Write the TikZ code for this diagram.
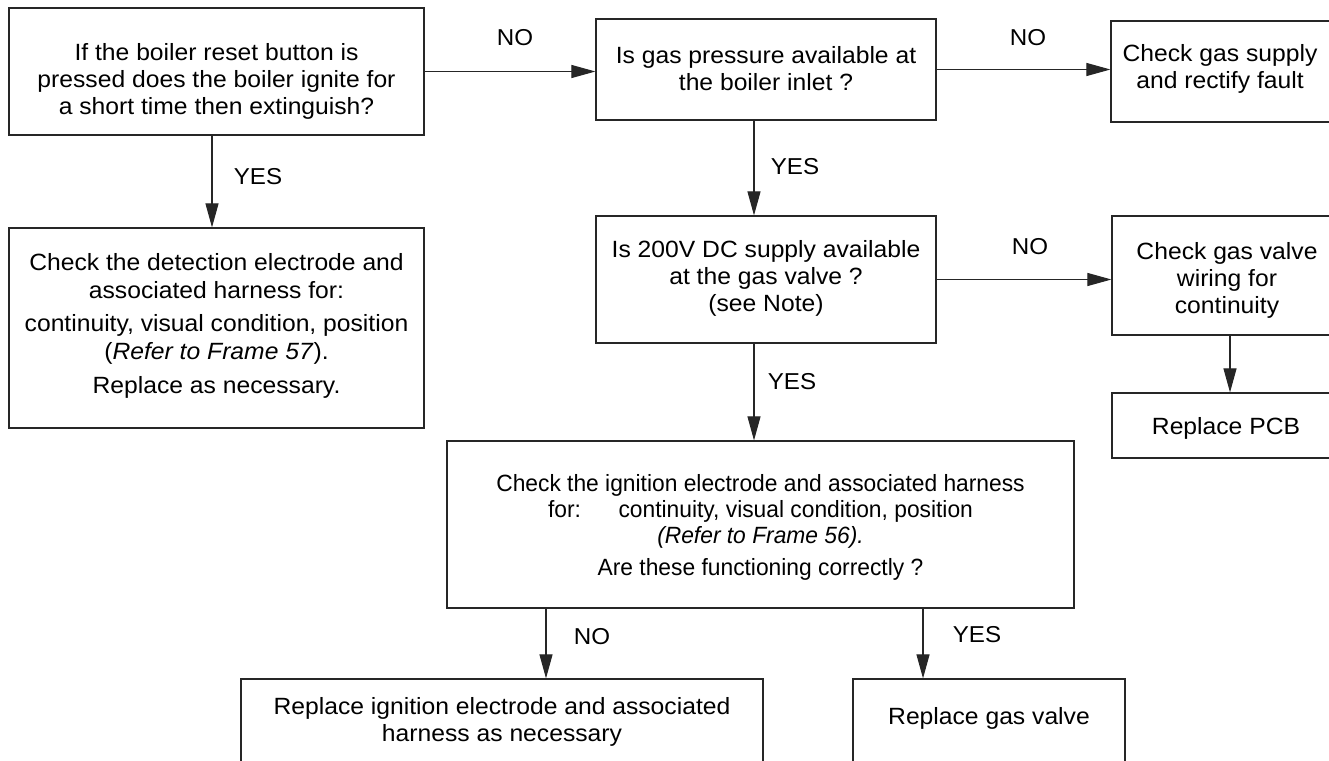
\documentclass[tikz,border=0pt]{standalone}
\usepackage{fontspec}
\setmainfont{Liberation Sans}
\newfontfamily\wfont[FakeStretch=1.05]{Liberation Sans}
\newfontfamily\nfont[FakeStretch=0.97]{Liberation Sans}
\usetikzlibrary{arrows.meta}
\begin{document}
\begin{tikzpicture}[x=1bp,y=-1bp,
  box/.style={draw=black!85, line width=1.2bp, inner sep=0pt, fill=none},
  txt/.style={align=center, inner sep=0pt, font=\wfont\fontsize{23.5bp}{27bp}\selectfont},
  dtxt/.style={align=center, inner sep=0pt, font=\wfont\fontsize{23.5bp}{28bp}\selectfont},
  ntxt/.style={align=center, inner sep=0pt, font=\nfont\fontsize{23.5bp}{26bp}\selectfont},
  lbl/.style={inner sep=0pt, font=\wfont\fontsize{23bp}{27bp}\selectfont},
  arr/.style={-{Triangle[length=24bp,width=13bp]}, line width=1.1bp, draw=black!85}]
\useasboundingbox (0,0) rectangle (1329,760);
% boxes
\node[box, minimum width=415bp, minimum height=127bp] (A) at (216.5,71.5) {};
\node[box, minimum width=340bp, minimum height=101bp] (B) at (766,69.5) {};
\node[box, minimum width=229bp, minimum height=101bp] (C) at (1225.5,71.5) {};
\node[box, minimum width=415bp, minimum height=200bp] (D) at (216.5,328) {};
\node[box, minimum width=340bp, minimum height=127bp] (E) at (766,279.5) {};
\node[box, minimum width=228bp, minimum height=119bp] (F) at (1226,275.5) {};
\node[box, minimum width=228bp, minimum height=65bp] (G) at (1226,425.5) {};
\node[box, minimum width=627bp, minimum height=167bp] (H) at (760.5,524.5) {};
\node[box, minimum width=522bp, minimum height=91bp] (I) at (502,724.5) {};
\node[box, minimum width=272bp, minimum height=91bp] (J) at (989,724.5) {};
% texts
\node[txt] (tA) at (216.5,81) {If the boiler reset button is\\pressed does the boiler ignite for\\a short time then extinguish?};
\node[txt] (tB) at (766,68.5) {Is gas pressure available at\\the boiler inlet ?};
\node[txt] (tC) at (1220,69) {Check gas supply\\and rectify fault};
\node[dtxt] (tD) at (216.5,326) {Check the detection electrode and\\associated harness for:\\[5bp]continuity, visual condition, position\\(\textit{Refer to Frame 57}).\\[6bp]Replace as necessary.};
\node[txt] (tE) at (766,278) {Is 200V DC supply available\\at the gas valve ?\\(see Note)};
\node[txt] (tF) at (1227,280) {Check gas valve\\wiring for\\continuity};
\node[txt] (tG) at (1226,428) {Replace PCB};
\node[ntxt] (tH) at (760.5,527) {Check the ignition electrode and associated harness\\for:\hspace{1.6em}continuity, visual condition, position\\\textit{(Refer to Frame 56).}\\[6bp]Are these functioning correctly ?};
\node[txt] (tI) at (502,722) {Replace ignition electrode and associated\\harness as necessary};
\node[txt] (tJ) at (989,718) {Replace gas valve};
% connectors
\draw[arr] (A.east) -- (A.east -| B.west);
\draw[arr] (B.east) -- (B.east -| C.west);
\draw[arr] ([xshift=-4.5bp]A.south) -- ([xshift=-4.5bp]A.south |- D.north);
\draw[arr] ([xshift=-12bp]B.south) -- ([xshift=-12bp]B.south |- E.north);
\draw[arr] (E.east) -- (E.east -| F.west);
\draw[arr] ([xshift=4bp]F.south) -- ([xshift=4bp]F.south |- G.north);
\draw[arr] ([xshift=-12bp]E.south) -- ([xshift=-12bp]E.south |- H.north);
\draw[arr] ([xshift=-214.5bp]H.south) -- ([xshift=-214.5bp]H.south |- I.north);
\draw[arr] ([xshift=162.5bp]H.south) -- ([xshift=162.5bp]H.south |- J.north);
% labels
\node[lbl] (l1) at (515,38) {NO};
\node[lbl] (l2) at (1028,38) {NO};
\node[lbl] (l3) at (258,177) {YES};
\node[lbl] (l4) at (795,167) {YES};
\node[lbl] (l5) at (1030,247) {NO};
\node[lbl] (l6) at (792,382) {YES};
\node[lbl] (l7) at (592,637) {NO};
\node[lbl] (l8) at (977,635) {YES};
\end{tikzpicture}
\end{document}
